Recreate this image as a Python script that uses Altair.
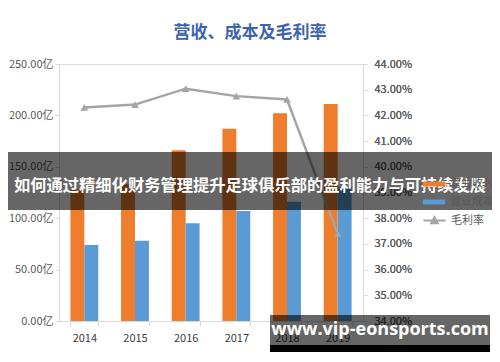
import altair as alt
import pandas as pd

years = ["2014", "2015", "2016", "2017", "2018", "2019"]
revenue = [128, 133, 166, 187, 202, 211]
cost = [74, 78, 95, 107, 116, 130]
margin = [42.31, 42.42, 43.04, 42.75, 42.62, 37.40]

series_bar = ["营业收入", "营业成本"]
series_line = "毛利率"
title_text = "营收、成本及毛利率"
banner_text = "如何通过精细化财务管理提升足球俱乐部的盈利能力与可持续发展"
watermark_text = "www.vip-eonsports.com"

FONT = "Noto Sans CJK SC"

bars_df = pd.DataFrame({
    "year": years * 2,
    "series": [series_bar[0]] * len(years) + [series_bar[1]] * len(years),
    "value": revenue + cost,
})
line_df = pd.DataFrame({"year": years, "rate": margin, "series": [series_line] * len(years)})

xscale = alt.Scale(domain=years, paddingInner=0.45, paddingOuter=0.225)

x_axis = alt.Axis(title=None, labelFont=FONT, labelFontSize=11, labelColor="#404040",
                  domainColor="#D9D9D9", tickColor="#D9D9D9", tickBand="extent",
                  tickSize=5, labelPadding=6, labelAngle=0, grid=False)

right_axis = alt.Axis(title=None, orient="right", values=list(range(34, 45)),
                      labelExpr="format(datum.value, '.2f') + '%'",
                      labelFont=FONT, labelFontSize=11, labelColor="#595959",
                      domainColor="#D9D9D9", tickColor="#D9D9D9", tickSize=4,
                      labelPadding=7, grid=False)
yscale_r = alt.Scale(domain=[34, 44])

bars = alt.Chart(bars_df).mark_bar().encode(
    x=alt.X("year:N", scale=xscale, axis=x_axis, sort=years),
    xOffset=alt.XOffset("series:N", sort=series_bar, scale=alt.Scale(paddingInner=0, paddingOuter=0)),
    y=alt.Y("value:Q", scale=alt.Scale(domain=[0, 250]),
            axis=alt.Axis(title=None, values=[0, 50, 100, 150, 200, 250],
                          labelExpr="format(datum.value, '.2f') + '亿'",
                          labelFont=FONT, labelFontSize=11, labelColor="#595959",
                          domainColor="#D9D9D9", tickColor="#D9D9D9", tickSize=4,
                          grid=False)),
    color=alt.Color("series:N", sort=series_bar,
                    scale=alt.Scale(domain=series_bar, range=["#EE7D2E", "#5B9BD5"]),
                    legend=alt.Legend(title=None, orient="none", legendX=363, legendY=108,
                                      symbolType="M-1,-0.22H1V0.22H-1Z", symbolSize=500,
                                      labelFont=FONT, labelFontSize=11, labelColor="#595959",
                                      rowPadding=1, labelOffset=4)),
)

line = alt.Chart(line_df).mark_line(strokeWidth=2.5).encode(
    x=alt.X("year:N", scale=xscale, sort=years),
    y=alt.Y("rate:Q", scale=yscale_r, axis=right_axis),
    stroke=alt.Stroke("series:N", scale=alt.Scale(domain=[series_line], range=["#A5A5A5"]),
                      legend=alt.Legend(title=None, orient="none", legendX=363, legendY=144,
                                        symbolType="M-1,0H1M-0.3,0.25L0,-0.3L0.3,0.25Z",
                                        symbolSize=500, symbolStrokeWidth=2,
                                        symbolFillColor="#A5A5A5",
                                        labelFont=FONT, labelFontSize=11, labelColor="#595959",
                                        labelOffset=4)),
)

points = alt.Chart(line_df).mark_point(shape="triangle-up", filled=True, size=60,
                                       color="#A5A5A5", opacity=1).encode(
    x=alt.X("year:N", scale=xscale, sort=years),
    y=alt.Y("rate:Q", scale=yscale_r, axis=right_axis),
)

title = alt.Chart(pd.DataFrame({"t": [title_text]})).mark_text(
    font=FONT, fontSize=17, fontWeight="bold", color="#3D64AC",
    align="center", baseline="middle").encode(
    x=alt.value(191), y=alt.value(-31), text="t:N")

banner = alt.Chart(pd.DataFrame({"t": [banner_text]})).mark_rect(color="#000000", opacity=0.6).encode(
    x=alt.value(-51), x2=alt.value(433), y=alt.value(88), y2=alt.value(146))

banner_txt = alt.Chart(pd.DataFrame({"t": [banner_text]})).mark_text(
    font=FONT, fontSize=16.3, fontWeight="bold", color="white", align="center",
    baseline="middle").encode(x=alt.value(191), y=alt.value(122), text="t:N")

wm_rect = alt.Chart(pd.DataFrame({"t": [watermark_text]})).mark_rect(color="#000000", opacity=0.6).encode(
    x=alt.value(211), x2=alt.value(431), y=alt.value(251), y2=alt.value(281))
wm_stripe = alt.Chart(pd.DataFrame({"t": [watermark_text]})).mark_rect(color="#000000", opacity=1).encode(
    x=alt.value(211), x2=alt.value(431), y=alt.value(281), y2=alt.value(288))
wm_txt = alt.Chart(pd.DataFrame({"t": [watermark_text]})).mark_text(
    font="Open Sans", fontSize=18, fontWeight="bold", color="white", align="center",
    baseline="middle").encode(x=alt.value(321), y=alt.value(266), text="t:N")

chart = alt.layer(
    bars, line, points, title, banner, banner_txt, wm_rect, wm_stripe, wm_txt
).resolve_scale(y="independent", color="independent", stroke="independent").properties(
    width=304, height=257,
    autosize=alt.AutoSizeParams(type="none"),
    padding={"left": 51, "top": 56, "right": 129, "bottom": 33},
).configure_view(stroke=None).configure(background="white")

chart.save("out.html", embed_options={"renderer": "svg", "actions": False})
